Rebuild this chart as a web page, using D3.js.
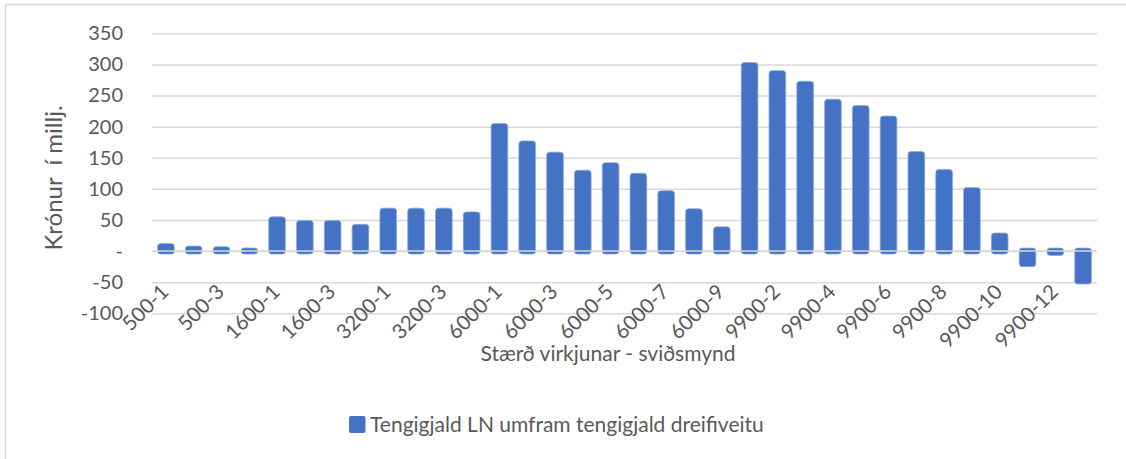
<!DOCTYPE html>
<html lang="is">
<head>
    <meta charset="UTF-8">
    <title>Tengigjald LN</title>
    <script src="https://d3js.org/d3.v7.min.js"></script>
    <style>
        body { margin: 0; background: #fff; }
        svg { display: block; font-family: Lato, "Noto Sans", sans-serif; }
        .grid line { stroke: #d9d9d9; stroke-width: 1.5; }
        .tick text { fill: #595959; }
    </style>
</head>
<body>
    <svg id="chart" width="1126" height="459"></svg>

    <script>
        // Categories (scenarios) and values in million ISK
        const categories = [
            "500-1", "500-2", "500-3", "500-4",
            "1600-1", "1600-2", "1600-3", "1600-4",
            "3200-1", "3200-2", "3200-3", "3200-4",
            "6000-1", "6000-2", "6000-3", "6000-4", "6000-5", "6000-6", "6000-7", "6000-8", "6000-9",
            "9900-1", "9900-2", "9900-3", "9900-4", "9900-5", "9900-6", "9900-7", "9900-8", "9900-9",
            "9900-10", "9900-11", "9900-12", "9900-13"
        ];
        const values = [
            12, 8, 7, 5,
            55, 49, 49, 43,
            69, 69, 69, 63,
            205, 177, 159, 130, 142, 125, 97, 68, 39,
            303, 290, 273, 244, 234, 217, 160, 131, 102,
            29, -25, -7, -53
        ];
        const yTicks = [-100, -50, 0, 50, 100, 150, 200, 250, 300, 350];
        const seriesName = "Tengigjald LN umfram tengigjald dreifiveitu";

        const data = categories.map((c, i) => ({ cat: c, value: values[i] }));

        const svg = d3.select("#chart");
        const plotLeft = 152, plotRight = 1097, plotTop = 33.3, plotBottom = 313.3;

        // chart frame (only left and top edges are in view)
        svg.append("path")
            .attr("d", "M5.5,459 V4.5 H1126")
            .attr("fill", "none")
            .attr("stroke", "#d9d9d9")
            .attr("stroke-width", 1.5);

        const x = d3.scaleBand()
            .domain(categories)
            .range([plotLeft, plotRight])
            .paddingInner(0.4)
            .paddingOuter(0.2);

        const y = d3.scaleLinear()
            .domain([-100, 350])
            .range([plotBottom, plotTop]);

        // gridlines + y labels
        const yAxis = svg.append("g")
            .attr("class", "grid")
            .attr("transform", `translate(${plotLeft},0)`)
            .call(d3.axisLeft(y)
                .tickValues(yTicks)
                .tickSize(-(plotRight - plotLeft))
                .tickPadding(29)
                .tickFormat(d => d === 0 ? "-" : d));
        yAxis.select(".domain").remove();
        yAxis.selectAll("text")
            .attr("font-size", 20)
            .attr("font-family", "Lato, sans-serif");

        // bars (Excel draws them a few px past the zero line)
        const y0 = y(0);
        svg.append("g")
            .selectAll("rect")
            .data(data)
            .enter()
            .append("rect")
            .attr("x", d => x(d.cat))
            .attr("width", x.bandwidth())
            .attr("y", d => d.value >= 0 ? y(d.value) : y0 - 3)
            .attr("height", d => d.value >= 0 ? y0 - y(d.value) + 3 : y(d.value) - y0 + 3)
            .attr("rx", 3)
            .attr("fill", "#4472c4")
            .attr("stroke", "#8faadc")
            .attr("stroke-width", 0.8);

        // zero line sits on top of the bars
        svg.append("line")
            .attr("x1", plotLeft).attr("x2", plotRight)
            .attr("y1", y0).attr("y2", y0)
            .attr("stroke", "#d9d9d9")
            .attr("stroke-width", 1.5);

        // category labels, every other one, rotated
        const xAxis = svg.append("g")
            .attr("transform", `translate(0,${y0})`)
            .call(d3.axisBottom(x)
                .tickSize(0)
                .tickFormat((d, i) => i % 2 === 0 ? d : ""));
        xAxis.select(".domain").remove();
        xAxis.selectAll("text")
            .attr("font-size", 20.5)
            .attr("font-family", "Lato, sans-serif")
            .attr("text-anchor", "end")
            .attr("y", 0)
            .attr("dy", 0)
            .attr("transform", "translate(4,42) rotate(-45)");

        // axis titles
        svg.append("text")
            .attr("transform", "translate(62,178) rotate(-90)")
            .attr("text-anchor", "middle")
            .attr("fill", "#595959")
            .attr("font-size", 24)
            .style("white-space", "pre")
            .text("Krónur  í millj.");

        svg.append("text")
            .attr("x", 608)
            .attr("y", 361)
            .attr("text-anchor", "middle")
            .attr("fill", "#595959")
            .attr("font-size", 21)
            .text("Stærð virkjunar - sviðsmynd");

        // legend
        const legend = svg.append("g");
        legend.append("rect")
            .attr("x", 349).attr("y", 416)
            .attr("width", 16.5).attr("height", 17)
            .attr("rx", 2)
            .attr("fill", "#4472c4");
        legend.append("text")
            .attr("x", 370)
            .attr("y", 431.5)
            .attr("fill", "#595959")
            .attr("font-size", 21)
            .text(seriesName);
    </script>
</body>
</html>
